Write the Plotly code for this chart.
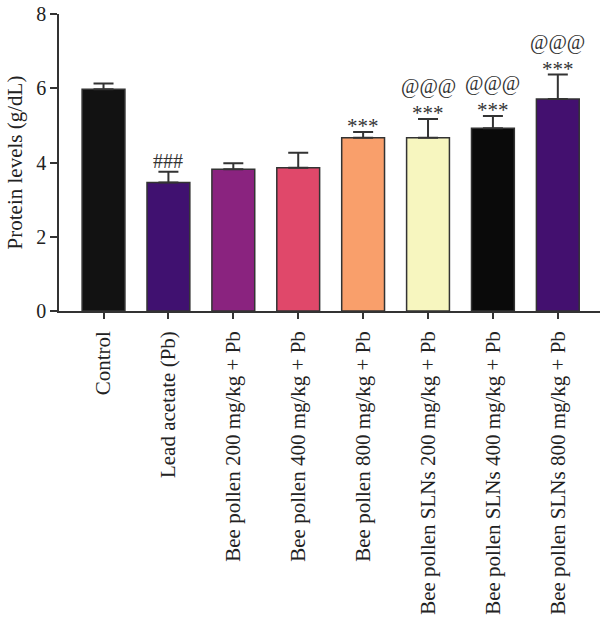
import plotly.graph_objects as go

categories = ["Control", "Lead acetate (Pb)", "Bee pollen 200 mg/kg + Pb",
              "Bee pollen 400 mg/kg + Pb", "Bee pollen 800 mg/kg + Pb",
              "Bee pollen SLNs 200 mg/kg + Pb", "Bee pollen SLNs 400 mg/kg + Pb",
              "Bee pollen SLNs 800 mg/kg + Pb"]
values = [5.97, 3.46, 3.82, 3.86, 4.67, 4.67, 4.92, 5.71]
errors = [0.16, 0.29, 0.16, 0.40, 0.15, 0.50, 0.33, 0.66]
colors = ["#121212", "#401170", "#8a237f", "#e0486a", "#f99f6b", "#f7f6bf", "#0a0a0a", "#43106f"]
marks1 = ["", "###", "", "", "***", "***", "***", "***"]
marks2 = ["", "", "", "", "", "@@@", "@@@", "@@@"]
y_ticks = [0, 2, 4, 6, 8]

FONT = "Liberation Serif"
fig = go.Figure()
fig.add_trace(go.Bar(
    x=list(range(len(categories))), y=values,
    marker=dict(color=colors, line=dict(color="#333333", width=1.5)),
    error_y=dict(type="data", array=errors, arrayminus=[0]*len(errors), symmetric=False,
                 color="#333333", thickness=2, width=10),
    width=0.66,
))

ann = []
for i, (v, e) in enumerate(zip(values, errors)):
    m = marks1[i]
    if m:
        star = m.startswith("*")
        ann.append(dict(x=i, y=v + e, text=m, showarrow=False, xref="x", yref="y",
                        yanchor="bottom", yshift=-8 if star else -2,
                        font=dict(family=FONT, size=21 if star else 20, color="#333333")))
    if marks2[i]:
        ann.append(dict(x=i, y=v + e, text=marks2[i], showarrow=False, xref="x", yref="y",
                        yanchor="bottom", yshift=19, font=dict(family=FONT, size=20, color="#333333")))

fig.update_layout(
    width=600, height=619,
    margin=dict(l=59, r=0, t=14, b=308),
    plot_bgcolor="white", paper_bgcolor="white",
    showlegend=False,
    font=dict(family=FONT, size=20, color="#222222"),
    annotations=ann,
    xaxis=dict(
        range=[-0.686, 7.65], tickmode="array", tickvals=list(range(len(categories))),
        ticktext=categories, tickangle=-90, showline=True, linecolor="#333333", linewidth=1.5,
        ticks="outside", ticklen=6, tickcolor="#333333", tickwidth=1.5, showgrid=False,
        ticklabelstandoff=4,
        tickfont=dict(family=FONT, size=21, color="#222222"),
    ),
    yaxis=dict(
        range=[0, 8], tickvals=y_ticks, showline=True, linecolor="#333333", linewidth=1.5,
        ticks="outside", ticklen=7, tickcolor="#333333", tickwidth=1.5, showgrid=False,
        zeroline=False,
        title=dict(text="Protein levels (g/dL)", font=dict(family=FONT, size=21), standoff=8),
        tickfont=dict(family=FONT, size=20, color="#222222"),
    ),
)
fig.write_html("out.html")
